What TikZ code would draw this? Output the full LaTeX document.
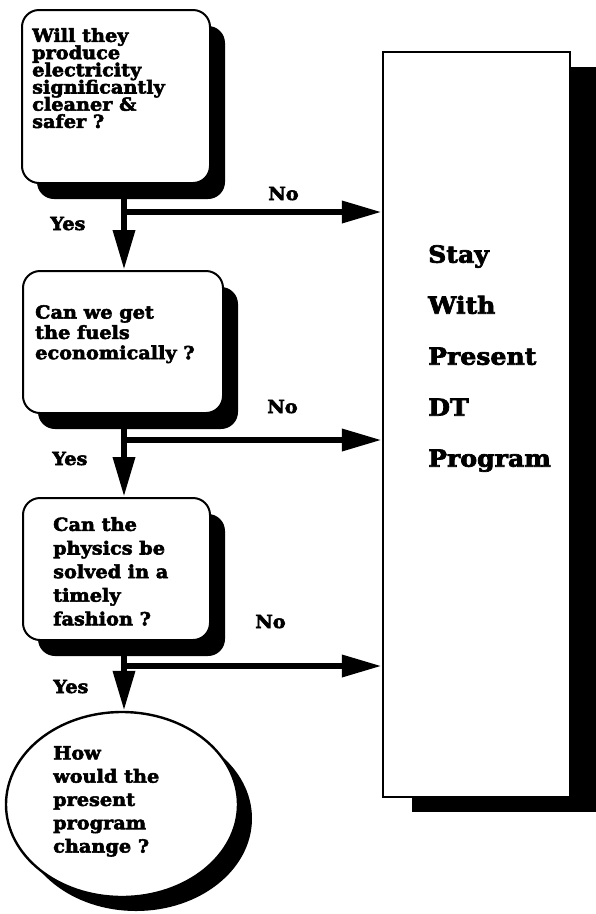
\documentclass[tikz,border=0pt]{standalone}
\usepackage{fontspec}
\newfontfamily\qf{DejaVu Serif}[FakeStretch=1.07,FakeBold=3]
\usetikzlibrary{arrows.meta,shadows,shapes.geometric}
\begin{document}
\lineskiplimit=-100pt\relax
\lineskip=0pt\relax
\begin{tikzpicture}[x=1pt,y=-1pt,
  qbox/.style={draw=black, line width=2pt, fill=white, rounded corners=17pt,
    inner sep=0pt,
    drop shadow={shadow xshift=15pt, shadow yshift=-16pt, fill=black, opacity=1}},
  qoval/.style={ellipse, draw=black, line width=2.4pt, fill=white, inner sep=0pt,
    drop shadow={shadow xshift=14pt, shadow yshift=-14pt, fill=black, opacity=1}},
  staybox/.style={draw=black, line width=2.2pt, fill=white, inner sep=0pt,
    drop shadow={shadow xshift=29pt, shadow yshift=-15pt, fill=black, opacity=1}},
  qtext/.style={anchor=north west, inner sep=0pt, align=left},
  lbl/.style={anchor=base west, inner sep=0pt,
    font=\qf\bfseries\fontsize{18}{20}\selectfont},
  flow/.style={line width=6.5pt, -{Triangle[length=40pt,width=21pt]}}
]
\fill[white] (0,0) rectangle (596,914);
\useasboundingbox (0,0) rectangle (596,914);

% boxes
\node[qbox, minimum width=188pt, minimum height=173pt] (b1) at (116,96.5) {};
\node[qbox, minimum width=200pt, minimum height=142pt] (b2) at (123,342) {};
\node[qbox, minimum width=187pt, minimum height=142pt] (b3) at (116.5,569) {};
\node[qoval, minimum width=232pt, minimum height=185pt] (q4) at (122,804.5) {};
\node[staybox, minimum width=187pt, minimum height=745pt] (stay) at (476.5,424.5) {};

% texts
\node[qtext, font=\qf\bfseries\fontsize{18}{17.2}\selectfont] (t1) at (32,28)
  {Will they\\produce\\electricity\\significantly\\cleaner \&\\safer ?};
\node[qtext, font=\qf\bfseries\fontsize{18}{20.3}\selectfont] (t2) at (35,305)
  {Can we get\\the fuels\\economically ?};
\node[qtext, font=\qf\bfseries\fontsize{18}{23.6}\selectfont] (t3) at (53,517)
  {Can the\\physics be\\solved in a\\timely\\fashion ?};
\node[qtext, font=\qf\bfseries\fontsize{18}{23.3}\selectfont] (t4) at (53,746)
  {How\\would the\\present\\program\\change ?};
\node[qtext, font=\qf\bfseries\fontsize{23.5}{51}\selectfont] (t5) at (428,245)
  {Stay\\With\\Present\\DT\\Program};

% connectors
\coordinate (xa) at (124,0);
\coordinate (j1) at (121,212);
\coordinate (j2) at (121,440);
\coordinate (j3) at (121,666);
\draw[flow] (b1.south -| xa) -- (b2.north -| xa);
\draw[flow] (b2.south -| xa) -- (b3.north -| xa);
\draw[flow] (b3.south -| xa) -- (q4.north -| xa);
\draw[flow] (j1) -- (stay.west |- j1);
\draw[flow] (j2) -- (stay.west |- j2);
\draw[flow] (j3) -- (stay.west |- j3);

% labels
\node[lbl] (n1) at (268,200) {No};
\node[lbl] (y1) at (50,230) {Yes};
\node[lbl] (n2) at (267,413) {No};
\node[lbl] (y2) at (52,465) {Yes};
\node[lbl] (n3) at (255,628) {No};
\node[lbl] (y3) at (53,693) {Yes};
\end{tikzpicture}
\end{document}
